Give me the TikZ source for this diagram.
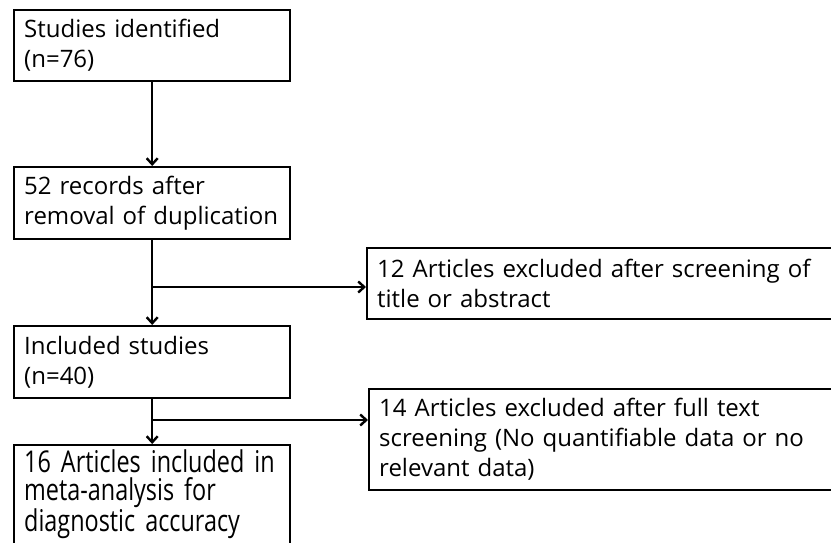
\documentclass[tikz,border=0pt]{standalone}
\usepackage{fontspec}
\setmainfont{Open Sans}
\newfontfamily\tallfont[FakeStretch=0.78]{Open Sans}
\usetikzlibrary{arrows.meta}
\tikzset{
    box/.style={draw,line width=2.4pt,anchor=north west,inner xsep=10pt,inner ysep=0pt,align=left,font=\fontsize{24}{30}\selectfont},
    lbox/.style={box,text width=256pt},
    rbox/.style={box,text width=500pt},
    tall/.style={font=\tallfont\fontsize{30}{27.5}\selectfont},
    flow/.style={
        every edge/.style={draw,line width=2.4pt,-{Straight Barb[length=6pt,width=11pt]}},
    }
}
\begin{document}
\begin{tikzpicture}[x=1pt,y=1pt,flow]
\useasboundingbox (0,0) rectangle (831,-543);
\clip (0,0) rectangle (831,-543);
\node[lbox,minimum height=71pt] (ident) at (13,-9) {Studies identified\\(n=76)};
\node[lbox,minimum height=72pt] (records) at (13,-166) {52 records after\\removal of duplication};
\node[lbox,minimum height=72pt] (incl) at (13,-325) {Included studies\\(n=40)};
% bottom box runs past the lower edge
\node[lbox,tall,minimum height=110pt] (meta) at (13,-444) {16 Articles included in\\meta-analysis for\\diagnostic accuracy\rule[-19pt]{0pt}{1pt}};
\node[rbox,minimum height=71pt] (excla) at (366,-247) {12 Articles excluded after screening of\\title or abstract};
\node[rbox,minimum height=101pt] (exclb) at (368,-388) {14 Articles excluded after full text\\screening (No quantifiable data or no\\relevant data)};
\coordinate (ja) at (151,-287);
\coordinate (jb) at (151,-420);
\path
    (ident) edge (records)
    (records) edge (incl)
    (incl) edge (meta)
    (ja) edge (ja -| excla.west)
    (jb) edge (jb -| exclb.west)
;
\end{tikzpicture}
\end{document}
